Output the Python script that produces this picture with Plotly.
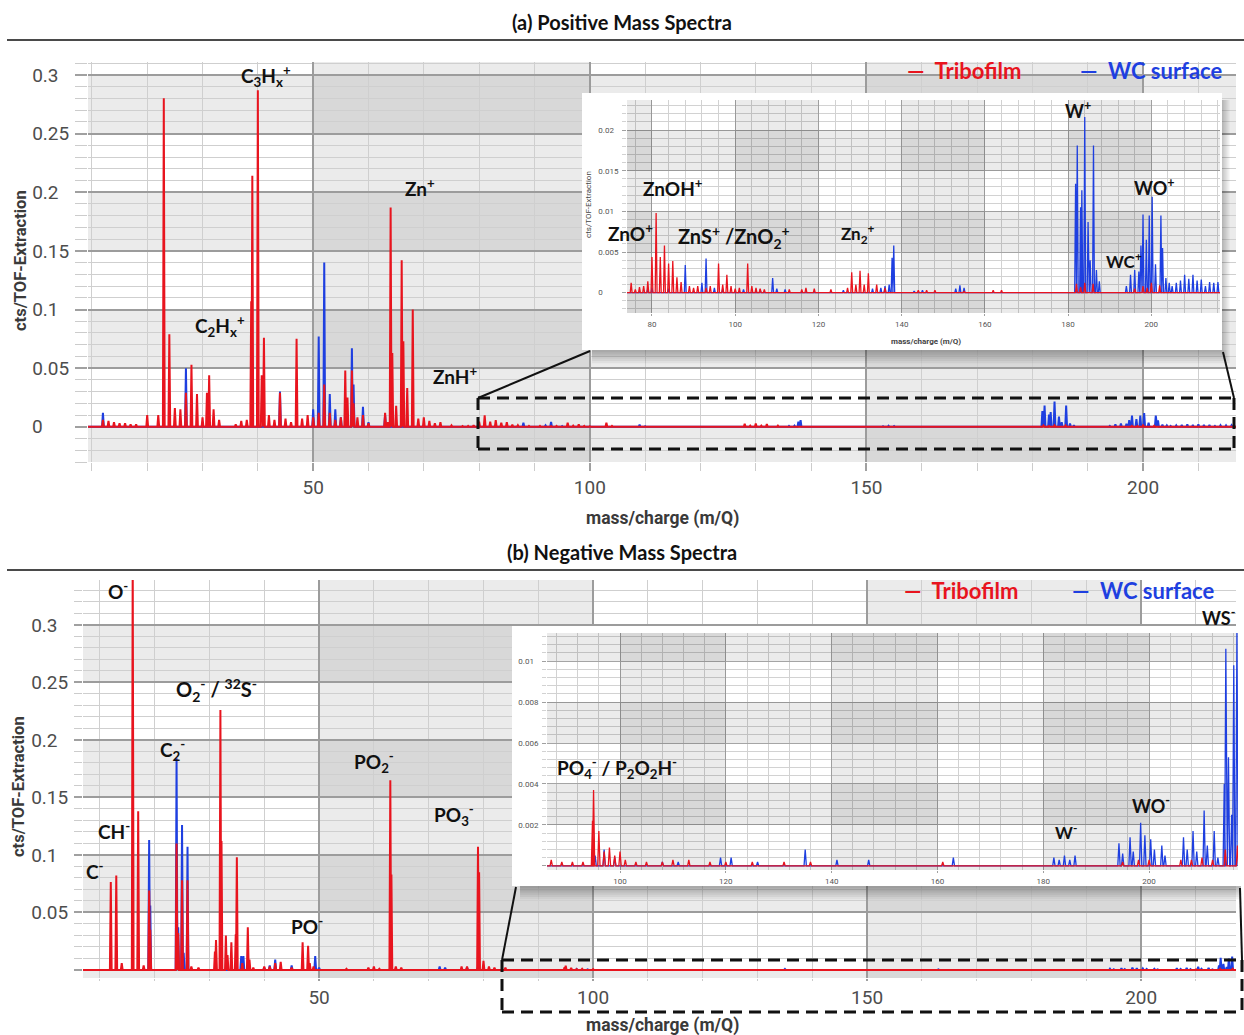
import plotly.graph_objects as go

W, H = 1244, 1035
RED = '#e8141e'
BLUE = '#1e3fe0'

# ---------------- data (m/Q, cts/TOF-Extraction) ----------------
# Positive spectrum, low-mass part
pos_red_mass = [12, 13, 14, 15, 16, 17, 18, 20, 22, 23, 24, 25, 26, 27, 28, 29, 30,
                30.8, 31.2, 32, 33, 36, 37, 38, 38.8, 39, 40, 40.7, 41.1, 42, 43, 44,
                45, 46, 47, 48, 49, 50, 51, 52, 53, 54, 55, 55.8, 56.2, 57, 57.3, 58,
                59, 60, 63, 63.5, 64, 64.3, 65, 66, 66.3, 67, 68, 69, 70, 71, 72, 73]
pos_red_h = [0.006, 0.005, 0.004, 0.003, 0.003, 0.002, 0.002, 0.010, 0.010, 0.280,
             0.079, 0.016, 0.015, 0.029, 0.053, 0.028, 0.008, 0.029, 0.044, 0.015,
             0.006, 0.002, 0.005, 0.006, 0.107, 0.214, 0.287, 0.044, 0.076, 0.010,
             0.006, 0.029, 0.007, 0.004, 0.075, 0.007, 0.010, 0.008, 0.012, 0.036,
             0.012, 0.006, 0.008, 0.048, 0.025, 0.048, 0.020, 0.008, 0.010, 0.003,
             0.012, 0.004, 0.187, 0.063, 0.018, 0.142, 0.073, 0.033, 0.100, 0.007,
             0.008, 0.005, 0.003, 0.004]
pos_blue_mass = [12, 27, 39, 40, 44, 50, 51, 52, 53, 54, 55, 57, 57.3, 59, 60, 63, 64, 66]
pos_blue_h = [0.012, 0.050, 0.005, 0.004, 0.030, 0.015, 0.077, 0.140, 0.028, 0.015,
              0.008, 0.067, 0.036, 0.017, 0.004, 0.010, 0.005, 0.004]

# Positive spectrum, high-mass part (inset and main panel)
pos_hi_red_mass = [75, 76, 77, 78, 79, 80, 81, 82, 83, 84, 85, 86, 87, 89, 90, 91, 93, 94,
                   96, 97, 98, 99, 100, 101, 103, 104, 105, 106, 107, 113, 116, 117, 119,
                   123, 127, 128, 129, 130, 131, 132, 134, 136, 144, 146, 148, 155, 162,
                   164, 182, 183, 184, 186, 196, 198, 199, 200, 202]
pos_hi_red_h = [0.0012, 0.0004, 0.0007, 0.0008, 0.0014, 0.0044, 0.0098, 0.0044, 0.0058,
                0.0036, 0.0039, 0.0019, 0.0013, 0.0008, 0.0006, 0.0008, 0.0006, 0.0008,
                0.0036, 0.0010, 0.0022, 0.0008, 0.0005, 0.0006, 0.0036, 0.0008, 0.0006,
                0.0005, 0.0004, 0.0004, 0.0004, 0.0006, 0.0005, 0.0004, 0.0006, 0.0025,
                0.0010, 0.0027, 0.0010, 0.0024, 0.0010, 0.0006, 0.0003, 0.0003, 0.0003,
                0.0002, 0.0003, 0.0003, 0.0011, 0.0007, 0.0012, 0.0011, 0.0005, 0.0008,
                0.0006, 0.0012, 0.0009]
pos_hi_blue_mass = [79, 80, 84, 88, 92, 93, 95, 97, 102, 106, 109, 110, 112, 126, 133, 135,
                    136, 137, 137.7, 138.1, 143, 145, 153, 154, 155, 181.8, 182.2, 183.0,
                    183.3, 184.0, 184.8, 185.3, 186.1, 186.8, 187.5, 194, 195, 196, 197,
                    197.5, 198, 198.8, 199.5, 200.2, 201, 202.3, 202.7, 203.5, 204.3, 205,
                    206, 207, 208, 209, 210, 211, 212, 213, 214, 215, 216]
pos_hi_blue_h = [0.0005, 0.0006, 0.0005, 0.0034, 0.0012, 0.0042, 0.0006, 0.0005, 0.0004,
                 0.0004, 0.0018, 0.0005, 0.0004, 0.0003, 0.0005, 0.0006, 0.0008, 0.0010,
                 0.0043, 0.0058, 0.0002, 0.0003, 0.0005, 0.0009, 0.0006, 0.0134, 0.0181,
                 0.0105, 0.0126, 0.0216, 0.0087, 0.0040, 0.0181, 0.0028, 0.0014, 0.0008,
                 0.0022, 0.0028, 0.0026, 0.0058, 0.0096, 0.0065, 0.0095, 0.0118, 0.0035,
                 0.0095, 0.0055, 0.0018, 0.0012, 0.0008, 0.0012, 0.0015, 0.0022, 0.0017,
                 0.0022, 0.0015, 0.0016, 0.0008, 0.0013, 0.0012, 0.0013]

# Negative spectrum, low-mass part
neg_red_mass = [12, 13, 14, 16, 17, 18, 19, 19.2, 24, 24.3, 25, 26, 26.7, 28, 31, 31.2, 32,
                32.2, 33, 33.3, 34, 34.8, 35, 36, 37, 37.3, 38, 40, 41, 42, 43, 45, 47,
                48, 48.3, 49, 55, 59, 60, 61, 63, 63.2, 64, 65, 76, 77, 79, 79.2, 80, 81,
                82, 84]
neg_red_h = [0.0765, 0.082, 0.006, 0.36, 0.138, 0.004, 0.069, 0.035, 0.110, 0.032, 0.078,
             0.078, 0.003, 0.002, 0.016, 0.026, 0.226, 0.112, 0.030, 0.013, 0.024, 0.031,
             0.098, 0.006, 0.037, 0.009, 0.002, 0.003, 0.003, 0.006, 0.007, 0.002, 0.024,
             0.021, 0.006, 0.003, 0.001, 0.002, 0.003, 0.001, 0.165, 0.083, 0.003, 0.002,
             0.003, 0.003, 0.107, 0.085, 0.008, 0.003, 0.002, 0.002]
neg_blue_mass = [19, 19.2, 24, 24.3, 25, 25.3, 26, 35.8, 36.2, 40, 41, 42, 45, 49.3, 50,
                 63, 72, 73, 77, 79]
neg_blue_h = [0.113, 0.056, 0.184, 0.037, 0.126, 0.015, 0.107, 0.012, 0.012, 0.002, 0.004,
              0.009, 0.004, 0.012, 0.002, 0.002, 0.003, 0.002, 0.002, 0.003]

# Negative spectrum, high-mass part (inset and main panel)
neg_hi_red_mass = [87, 89, 91, 93, 94.8, 95.0, 96, 97, 98, 99, 100, 101, 103, 105, 108, 110,
                   113, 117, 120, 125, 131, 136, 161, 195, 198, 200, 206, 208, 210, 212,
                   214.4, 216.7]
neg_hi_red_h = [0.0003, 0.0002, 0.0002, 0.0002, 0.0022, 0.0037, 0.0017, 0.0007, 0.0009,
                0.0005, 0.0007, 0.0003, 0.0002, 0.0002, 0.0002, 0.0003, 0.0003, 0.0002,
                0.0002, 0.0002, 0.0002, 0.0002, 0.0002, 0.0002, 0.0003, 0.0003, 0.0003,
                0.0003, 0.0004, 0.0003, 0.0008, 0.0010]
neg_hi_blue_mass = [95.3, 97, 99, 108, 111, 119, 121, 126, 135, 141, 147, 163, 182, 183, 184,
                    185, 186, 194.3, 195, 196.4, 197, 198.4, 199.2, 200.3, 201, 202.4, 203,
                    206.5, 207.2, 208.3, 209, 210.4, 211, 212.3, 213, 214.2, 214.5, 215,
                    215.6, 216, 216.6]
neg_hi_blue_h = [0.0005, 0.0008, 0.0004, 0.0002, 0.0002, 0.0004, 0.0004, 0.0002, 0.0008,
                 0.0003, 0.0003, 0.0004, 0.0004, 0.0003, 0.0005, 0.0003, 0.0005, 0.0011,
                 0.0006, 0.0014, 0.0007, 0.0021, 0.0015, 0.0013, 0.0008, 0.0010, 0.0005,
                 0.0014, 0.0008, 0.0017, 0.0007, 0.0027, 0.0010, 0.0017, 0.0004, 0.0040,
                 0.0106, 0.0053, 0.0025, 0.0098, 0.0116]

# axis windows
pos_main_x = [9.3, 216.8]
pos_main_y = [-0.030, 0.311]
neg_main_x = [6.93, 217.3]
neg_main_y = [-0.007, 0.339]
pos_inset_x = [74.0, 216.5]
pos_inset_y = [-0.0025, 0.0237]
neg_inset_x = [86.2, 216.8]
neg_inset_y = [-0.0002, 0.01137]

FS = '\u2007'   # figure space (digit width)
PS = '\u2008'   # punctuation space (period width)
main_y_alias = {'0': '0' + PS + FS * 2, '0.1': '0.1' + FS, '0.2': '0.2' + FS,
                '0.3': '0.3' + FS}
neg_y_alias = {'0': '', '0.1': '0.1' + FS, '0.2': '0.2' + FS, '0.3': '0.3' + FS}
pos_inset_alias = {'0': '0' + PS + FS * 3, '0.01': '0.01' + FS, '0.02': '0.02' + FS}
neg_inset_alias = {'0': '', '0.01': '0.01' + FS}


# ---------------- helpers ----------------
def px(x):
    return x / W


def py(y):
    return 1 - y / H


def spectrum(masses, heights, lo, hi, hw):
    pairs = sorted(zip(masses, heights))
    xs, ys = [lo], [0.0]
    for m, h in pairs:
        if lo <= m <= hi:
            xs += [m - hw, m, m + hw]
            ys += [0.0, h, 0.0]
    xs.append(hi)
    ys.append(0.0)
    return xs, ys


fig = go.Figure()
SH = 'rgba(0,0,0,0.08)'


def band_traces(xa, ya, xr, yr, xbands, ybands):
    # checkerboard shading of the insets, drawn as filled traces
    for a, b in xbands:
        a, b = max(a, xr[0]), min(b, xr[1])
        if a < b:
            fig.add_trace(go.Scatter(x=[a, b, b, a, a], y=[yr[0], yr[0], yr[1], yr[1], yr[0]],
                                     xaxis=xa, yaxis=ya, mode='none', fill='toself',
                                     fillcolor=SH, showlegend=False, hoverinfo='skip'))
    for a, b in ybands:
        a, b = max(a, yr[0]), min(b, yr[1])
        if a < b:
            fig.add_trace(go.Scatter(x=[xr[0], xr[1], xr[1], xr[0], xr[0]], y=[a, a, b, b, a],
                                     xaxis=xa, yaxis=ya, mode='none', fill='toself',
                                     fillcolor=SH, showlegend=False, hoverinfo='skip'))


def add_pair(xa, ya, rm, rh, bm, bh, xr, hw, lw):
    bx, by = spectrum(bm, bh, xr[0], xr[1], hw)
    rx, ry = spectrum(rm, rh, xr[0], xr[1], hw)
    fig.add_trace(go.Scatter(x=bx, y=by, xaxis=xa, yaxis=ya, mode='lines',
                             line=dict(color=BLUE, width=lw), name='WC surface',
                             showlegend=False, hoverinfo='skip'))
    fig.add_trace(go.Scatter(x=rx, y=ry, xaxis=xa, yaxis=ya, mode='lines',
                             line=dict(color=RED, width=lw), name='Tribofilm',
                             showlegend=False, hoverinfo='skip'))


add_pair('x', 'y', pos_red_mass + pos_hi_red_mass, pos_red_h + pos_hi_red_h,
         pos_blue_mass + pos_hi_blue_mass, pos_blue_h + pos_hi_blue_h, pos_main_x, 0.16, 2)
add_pair('x2', 'y2', neg_red_mass + neg_hi_red_mass, neg_red_h + neg_hi_red_h,
         neg_blue_mass + neg_hi_blue_mass, neg_blue_h + neg_hi_blue_h, neg_main_x, 0.16, 2)
fig.add_trace(go.Scatter(x=[None], y=[None], xaxis='x3', yaxis='y3', showlegend=False,
                         hoverinfo='skip'))
band_traces('x4', 'y4', pos_inset_x, pos_inset_y,
            [(60, 80), (100, 120), (140, 160), (180, 200)],
            [(-0.005, 0), (0.005, 0.01), (0.015, 0.02)])
add_pair('x4', 'y4', pos_hi_red_mass, pos_hi_red_h, pos_hi_blue_mass, pos_hi_blue_h,
         pos_inset_x, 0.22, 1.3)
fig.add_trace(go.Scatter(x=[None], y=[None], xaxis='x5', yaxis='y5', showlegend=False,
                         hoverinfo='skip'))
band_traces('x6', 'y6', neg_inset_x, neg_inset_y, [(100, 120), (140, 160), (180, 200)],
            [(-0.002, 0), (0.002, 0.004), (0.006, 0.008), (0.01, 0.012)])
add_pair('x6', 'y6', neg_hi_red_mass, neg_hi_red_h, neg_hi_blue_mass, neg_hi_blue_h,
         neg_inset_x, 0.22, 1.3)

TICKFONT = dict(family='Roboto', size=19, color='#4d4d4d')
SMALLFONT = dict(family='Roboto', size=8, color='#555555')


def main_xaxis(dom, rng, anchor, tl):
    return dict(domain=dom, range=rng, anchor=anchor, tickmode='linear', tick0=0, dtick=50,
                ticks='outside', ticklen=tl, tickcolor='#a0a0a0', tickwidth=1.5,
                showgrid=True, gridcolor='#9c9c9c', gridwidth=1.5, zeroline=False,
                showline=False, tickfont=TICKFONT, ticklabelstandoff=0,
                minor=dict(tickmode='linear', tick0=0, dtick=10, ticks='outside', ticklen=tl,
                           tickcolor='#cccccc', tickwidth=1, showgrid=True,
                           gridcolor='#cfcfcf', gridwidth=1))


def main_yaxis(dom, rng, anchor, alias, tl):
    return dict(domain=dom, range=rng, anchor=anchor, tickmode='linear', tick0=0, dtick=0.05,
                ticks='outside', ticklen=tl, tickcolor='#a0a0a0', tickwidth=1.5,
                showgrid=True, gridcolor='#9c9c9c', gridwidth=1.5, zeroline=False,
                showline=False, tickfont=TICKFONT, ticklabelstandoff=2, labelalias=alias,
                minor=dict(tickmode='linear', tick0=0, dtick=0.01, ticks='outside', ticklen=tl,
                           tickcolor='#cccccc', tickwidth=1, showgrid=True,
                           gridcolor='#cfcfcf', gridwidth=1))


def inset_xaxis(dom, rng, anchor):
    return dict(domain=dom, range=rng, anchor=anchor, tickmode='linear', tick0=0, dtick=20,
                ticks='outside', ticklen=2, tickcolor='#a0a0a0', showgrid=True,
                gridcolor='#a5a5a5', gridwidth=1, zeroline=False, showline=False,
                tickfont=SMALLFONT, ticklabelstandoff=1,
                minor=dict(tickmode='linear', tick0=0, dtick=4, showgrid=True,
                           gridcolor='#d2d2d2', gridwidth=1))


def inset_yaxis(dom, rng, anchor, dt, mdt, alias):
    return dict(domain=dom, range=rng, anchor=anchor, tickmode='linear', tick0=0, dtick=dt,
                ticks='outside', ticklen=4, tickcolor='#a0a0a0', showgrid=True,
                gridcolor='#a5a5a5', gridwidth=1, zeroline=False, showline=False,
                tickfont=SMALLFONT, ticklabelstandoff=2, labelalias=alias,
                minor=dict(tickmode='linear', tick0=0, dtick=mdt, ticks='outside', ticklen=4,
                           tickcolor='#d2d2d2', showgrid=True, gridcolor='#d2d2d2',
                           gridwidth=1))


hidden = dict(visible=False, range=[0, 1], showgrid=False, zeroline=False)

fig.update_layout(
    width=W, height=H, autosize=False,
    margin=dict(l=0, r=0, t=0, b=0),
    paper_bgcolor='white', plot_bgcolor='white',
    showlegend=False,
    xaxis=main_xaxis([px(88), px(1236)], pos_main_x, 'y', 8),
    yaxis=main_yaxis([py(462), py(62)], pos_main_y, 'x', main_y_alias, 12),
    xaxis2=main_xaxis([px(83), px(1236)], neg_main_x, 'y2', 2),
    yaxis2=main_yaxis([py(978), py(580)], neg_main_y, 'x2', neg_y_alias, 8),
    xaxis3=dict(hidden, domain=[px(582), px(1222)], anchor='y3'),
    yaxis3=dict(hidden, domain=[py(350), py(93)], anchor='x3'),
    xaxis4=inset_xaxis([px(627), px(1220)], pos_inset_x, 'y4'),
    yaxis4=inset_yaxis([py(313), py(100)], pos_inset_y, 'x4', 0.005, 0.001, pos_inset_alias),
    xaxis5=dict(hidden, domain=[px(512), px(1241)], anchor='y5'),
    yaxis5=dict(hidden, domain=[py(886), py(626)], anchor='x5'),
    xaxis6=inset_xaxis([px(547), px(1238)], neg_inset_x, 'y6'),
    yaxis6=inset_yaxis([py(870), py(633)], neg_inset_y, 'x6', 0.002, 0.0004, neg_inset_alias),
)

shapes = []


def shade(xa, ya, xr, yr, xbands, ybands):
    for a, b in xbands:
        a, b = max(a, xr[0]), min(b, xr[1])
        if a < b:
            shapes.append(dict(type='rect', xref=xa, yref=ya + ' domain', x0=a, x1=b, y0=0,
                               y1=1, fillcolor=SH, line=dict(width=0), layer='below'))
    for a, b in ybands:
        a, b = max(a, yr[0]), min(b, yr[1])
        if a < b:
            shapes.append(dict(type='rect', xref=xa + ' domain', yref=ya, x0=0, x1=1, y0=a,
                               y1=b, fillcolor=SH, line=dict(width=0), layer='below'))


shade('x', 'y', pos_main_x, pos_main_y, [(50, 100), (150, 200)],
      [(-0.05, 0), (0.05, 0.1), (0.15, 0.2), (0.25, 0.3)])
shade('x2', 'y2', neg_main_x, neg_main_y, [(50, 100), (150, 200)],
      [(-0.05, 0), (0.05, 0.1), (0.15, 0.2), (0.25, 0.3)])


def pline(x0, y0, x1, y1, color='#222', width=2, dash=None):
    ln = dict(color=color, width=width)
    if dash:
        ln['dash'] = dash
    shapes.append(dict(type='line', xref='paper', yref='paper', x0=px(x0), y0=py(y0),
                       x1=px(x1), y1=py(y1), line=ln, layer='above'))


def prect(x0, y0, x1, y1, fill, layer='above'):
    shapes.append(dict(type='rect', xref='paper', yref='paper', x0=px(x0), y0=py(y0),
                       x1=px(x1), y1=py(y1), fillcolor=fill, line=dict(width=0),
                       layer=layer))


pline(7, 40, 1244, 40, '#4a4a4a', 2)
pline(7, 570, 1244, 570, '#4a4a4a', 2)

for k in range(1, 7):
    prect(592, 350, 1222 + k * 1.3, 350 + k * 2.2, 'rgba(0,0,0,0.05)')
    prect(1222, 100, 1222 + k * 1.3, 350, 'rgba(0,0,0,0.04)')
    prect(520, 886, 1241, 886 + k * 2.2, 'rgba(0,0,0,0.05)')

DASH = '12px,7px'
for (x0, y0, x1, y1) in [(478, 398, 1234, 449), (502, 960, 1242, 1012)]:
    pline(x0, y0, x1, y0, '#111', 3, DASH)
    pline(x0, y1, x1, y1, '#111', 3, DASH)
    pline(x0, y0, x0, y1, '#111', 3, DASH)
    pline(x1, y0, x1, y1, '#111', 3, DASH)
pline(478, 398, 590, 351, '#111', 2)
pline(1234, 398, 1223, 352, '#111', 2)
pline(502, 960, 516, 887, '#111', 2)
pline(1242, 960, 1240, 888, '#111', 2)

fig.update_layout(shapes=shapes)

anns = []


def ann(text, x, y, size=19, color='#111111', family='Lato', angle=0, bold=True):
    t = '<b>' + text + '</b>' if bold else text
    anns.append(dict(text=t, x=px(x), y=py(y), xref='paper', yref='paper', showarrow=False,
                     xanchor='center', yanchor='middle', textangle=angle,
                     font=dict(family=family, size=size, color=color)))


ann('(a) Positive Mass Spectra', 622, 22, 20)
ann('(b) Negative Mass Spectra', 622, 552, 20)
AX = '#3a3a3a'
ann('cts/TOF-Extraction', 20, 261, 16.5, AX, 'Roboto', -90)
ann('cts/TOF-Extraction', 18, 787, 16.5, AX, 'Roboto', -90)
ann('mass/charge (m/Q)', 662, 518, 17.5, AX, 'Roboto')
ann('mass/charge (m/Q)', 662, 1025, 17.5, AX, 'Roboto')
ann('cts/TOF-Extraction', 588, 205, 8, '#444', 'Roboto', -90, bold=False)
ann('mass/charge (m/Q)', 926, 341, 8, '#444', 'Roboto')
ann('—  Tribofilm', 964, 71, 22, RED)
ann('—  WC surface', 1151, 71, 22, BLUE)
ann('—  Tribofilm', 961, 590, 22, RED)
ann('—  WC surface', 1143, 590, 22, BLUE)
ann('C<sub>3</sub>H<sub>x</sub><sup>+</sup>', 266, 76)
ann('C<sub>2</sub>H<sub>x</sub><sup>+</sup>', 220, 326)
ann('Zn<sup>+</sup>', 420, 188)
ann('ZnH<sup>+</sup>', 455, 375)
ann('ZnOH<sup>+</sup>', 673, 188)
ann('ZnO<sup>+</sup>', 630, 232)
ann('ZnS<sup>+</sup> /ZnO<sub>2</sub><sup>+</sup>', 734, 237, 20)
ann('Zn<sub>2</sub><sup>+</sup>', 858, 234, 17)
ann('W<sup>+</sup>', 1078, 110, 18)
ann('WO<sup>+</sup>', 1154, 187, 18)
ann('WC<sup>+</sup>', 1124, 260, 17)
ann('O<sup>-</sup>', 118, 590)
ann('O<sub>2</sub><sup>-</sup> / <sup>32</sup>S<sup>-</sup>', 216, 690, 20)
ann('C<sub>2</sub><sup>-</sup>', 172, 750)
ann('PO<sub>2</sub><sup>-</sup>', 374, 762)
ann('PO<sub>3</sub><sup>-</sup>', 454, 815)
ann('CH<sup>-</sup>', 114, 830)
ann('C<sup>-</sup>', 95, 870)
ann('PO<sup>-</sup>', 307, 925)
ann('PO<sub>4</sub><sup>-</sup> / P<sub>2</sub>O<sub>2</sub>H<sup>-</sup>', 617, 768)
ann('W<sup>-</sup>', 1066, 831, 17)
ann('WO<sup>-</sup>', 1151, 805, 18)
ann('WS<sup>-</sup>', 1218, 617, 18)

fig.update_layout(annotations=anns)

fig.write_html('out.html', config={'displayModeBar': False})
